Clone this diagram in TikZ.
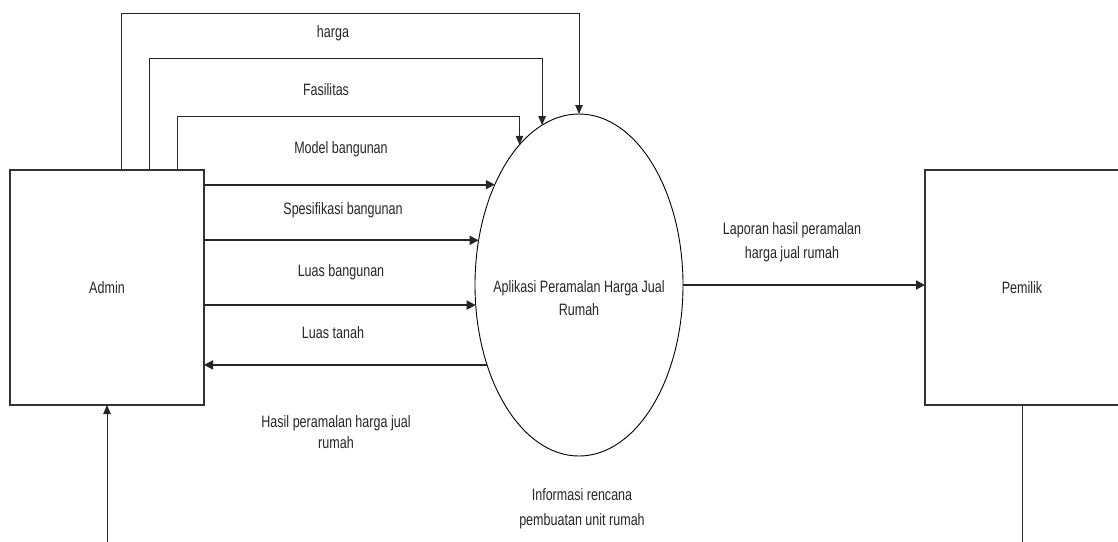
\documentclass[tikz,border=0pt]{standalone}
\usepackage{fontspec}
\setmainfont{Liberation Sans}[FakeStretch=0.76]
\usetikzlibrary{shapes.geometric,arrows.meta}
\begin{document}
\begin{tikzpicture}[x=1pt,y=-1pt,
  every node/.style={font=\fontsize{16.5}{23}\selectfont, text=black!85},
  entity/.style={draw=black!80, line width=1.5pt, minimum width=194pt,
    minimum height=235pt, inner sep=0pt, outer sep=0pt},
  process/.style={ellipse, draw=black, line width=0.9pt, minimum width=208pt,
    minimum height=342pt, inner sep=0pt, outer sep=0pt},
  flow/.style={draw=black!85, line width=1.8pt, -{Triangle[length=9pt,width=9pt]}},
  thinflow/.style={draw=black!85, line width=0.9pt, -{Triangle[length=9pt,width=7.5pt]}},
  lbl/.style={align=center, inner sep=0pt}]
\useasboundingbox (0,0) rectangle (1118,541);

% external entities and the process
\node[entity] (admin) at (107,287.5) {Admin};
\node[entity] (pem) at (1022,287.5) {Pemilik};
\node[process] (proc) at (579,285) {};
\node[lbl] (proctext) at ([yshift=-13pt]proc.center) {Aplikasi Peramalan Harga Jual\\Rumah};

% data entered by the admin
\draw[thinflow] ([xshift=111pt]admin.north west) |- (proc.90 |- 0,13) -- (proc.90);
\draw[thinflow] ([xshift=139pt]admin.north west) |- (proc.103.8 |- 0,58) -- (proc.103.8);
\draw[thinflow] ([xshift=167pt]admin.north west) |- (proc.113.8 |- 0,116) -- (proc.113.8);
\draw[flow] (proc.130.2 -| admin.east) -- (proc.130.2);
\draw[flow] (proc.156.4 -| admin.east) -- (proc.156.4);
\draw[flow] (proc.191.5 -| admin.east) -- (proc.191.5);
\draw[flow] (proc.221 ) -- (proc.221 -| admin.east);

% report to the owner
\draw[flow] (proc.east) -- (proc.east -| pem.west);

% planning information back to the admin
\coordinate (bottomrun) at (0,560);
\draw[thinflow] (pem.south) -- (pem.south |- bottomrun) -- (admin.south |- bottomrun) -- (admin.south);

% flow labels
\node[lbl] (lharga) at (333,33) {harga};
\node[lbl] (lfas) at (326,90) {Fasilitas};
\node[lbl] (lmodel) at (341,149) {Model bangunan};
\node[lbl] (lspek) at (343,210) {Spesifikasi bangunan};
\node[lbl] (lluasb) at (341,272) {Luas bangunan};
\node[lbl] (lluast) at (333,333) {Luas tanah};
\node[lbl, font=\fontsize{16.5}{21}\selectfont] (lhasil) at (336,432) {Hasil peramalan harga jual\\rumah};
\node[lbl, font=\fontsize{16.5}{24}\selectfont] (llapor) at (792,242) {Laporan hasil peramalan\\harga jual rumah};
\node[lbl, font=\fontsize{16.5}{25}\selectfont] (linfo) at (582,509) {Informasi rencana\\pembuatan unit rumah};
\end{tikzpicture}
\end{document}
